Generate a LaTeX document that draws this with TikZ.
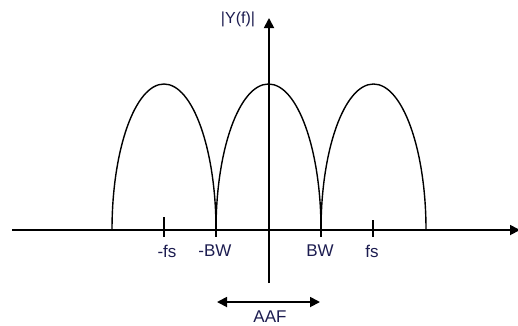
\documentclass[tikz,border=0pt]{standalone}
\usepackage{fontspec}
\setmainfont{Liberation Sans}
\usetikzlibrary{arrows.meta}
\definecolor{labelcol}{HTML}{1C1C50}
\tikzset{
  axisline/.style={line width=1.8pt, -{Triangle[length=10pt,width=10pt]}},
  arch/.style={line width=1.4pt},
  tick/.style={line width=2pt},
  lbl/.style={text=labelcol, font=\fontsize{17}{17}\selectfont, inner sep=0pt},
  aaf/.style={line width=1.8pt, {Triangle[length=10pt,width=10pt]}-{Triangle[length=10pt,width=10pt]}}
}
\begin{document}
\begin{tikzpicture}[x=1pt,y=-1pt]
\useasboundingbox (0,0) rectangle (518,325);
% axes
\coordinate (xl) at (12,230);
\coordinate (xr) at (520,230);
\coordinate (yb) at (269,283);
\coordinate (yt) at (269,18);
\draw[axisline] (xl) -- (xr);
\draw[axisline] (yb) -- (yt);
% arches (half ellipses)
\draw[arch] (112,230) arc[start angle=180, end angle=0, x radius=52, y radius=-146];
\draw[arch] (216,230) arc[start angle=180, end angle=0, x radius=52.5, y radius=-146];
\draw[arch] (321,230) arc[start angle=180, end angle=0, x radius=52.5, y radius=-146];
% ticks
\coordinate (t1a) at (164,217); \coordinate (t1b) at (164,237);
\coordinate (t2a) at (216,222); \coordinate (t2b) at (216,237);
\coordinate (t3a) at (321,222); \coordinate (t3b) at (321,237);
\coordinate (t4a) at (373,220); \coordinate (t4b) at (373,237);
\draw[tick] (t1a) -- (t1b);
\draw[tick] (t2a) -- (t2b);
\draw[tick] (t3a) -- (t3b);
\draw[tick] (t4a) -- (t4b);
% labels
\node[lbl] (lfs) at (167,251) {-fs};
\node[lbl] (lbw) at (215,251) {-BW};
\node[lbl] (rbw) at (320,251) {BW};
\node[lbl] (rfs) at (372,251) {fs};
\node[lbl, font=\fontsize{16}{16}\selectfont] (ylab) at (238,19) {|Y(f)|};
% AAF
\coordinate (aafl) at (217,302);
\coordinate (aafr) at (320,302);
\draw[aaf] (aafl) -- (aafr);
\node[lbl] (aaft) at (270,317) {AAF};
\end{tikzpicture}
\end{document}
